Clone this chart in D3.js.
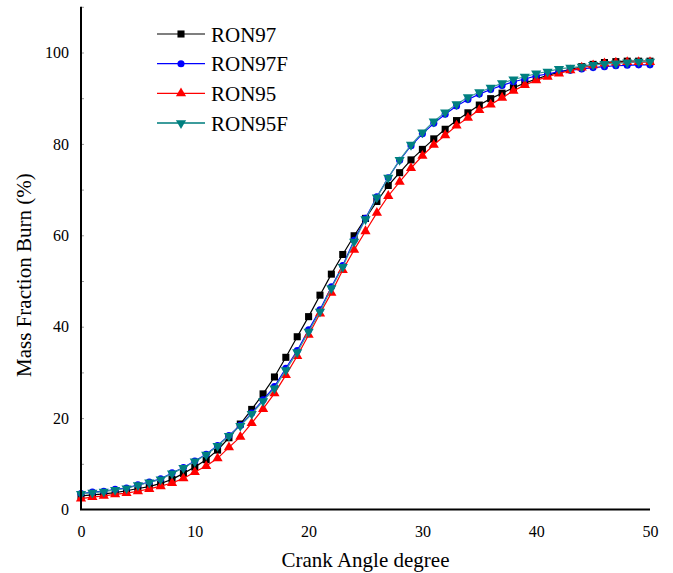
<!DOCTYPE html>
<html>
<head>
<meta charset="utf-8">
<script src="https://cdn.jsdelivr.net/npm/d3@7"></script>
<style>
  body { margin: 0; background: #fff; }
  text { font-family: "Liberation Serif", "Times New Roman", serif; }
</style>
</head>
<body>
<div id="chart"></div>
<script>
// crank angle (deg) and mass fraction burn (%)
const crankAngle = d3.range(0, 51);
const ron97 = [3.0, 3.2, 3.4, 3.7, 4.1, 4.6, 5.0, 5.7, 6.6, 7.9, 9.3, 10.9, 13.0, 15.7, 18.7, 21.9, 25.3, 29.0, 33.3, 37.8, 42.2, 46.9, 51.5, 55.8, 59.9, 63.7, 67.4, 70.9, 73.7, 76.5, 78.8, 81.1, 83.2, 85.1, 86.8, 88.5, 89.9, 91.1, 92.3, 93.3, 94.2, 95.0, 95.7, 96.3, 96.9, 97.4, 97.8, 98.0, 98.1, 98.1, 98.1];
const ron97F = [3.5, 3.8, 4.0, 4.4, 4.7, 5.4, 6.0, 6.7, 8.0, 9.2, 10.6, 12.1, 14.0, 16.2, 18.4, 21.1, 24.0, 26.9, 30.9, 34.8, 39.3, 43.7, 48.7, 53.4, 58.9, 63.7, 68.4, 72.6, 76.4, 79.6, 82.2, 84.5, 86.5, 88.3, 89.7, 90.9, 91.9, 92.8, 93.6, 94.2, 94.9, 95.3, 95.8, 96.1, 96.4, 96.7, 96.9, 97.1, 97.2, 97.3, 97.3];
const ron95 = [2.4, 2.7, 3.0, 3.3, 3.6, 4.0, 4.5, 5.1, 5.8, 6.8, 8.2, 9.5, 11.2, 13.6, 15.9, 18.9, 22.0, 25.4, 29.4, 33.6, 38.2, 42.9, 47.4, 52.4, 56.8, 60.9, 64.9, 68.6, 71.7, 74.7, 77.4, 79.8, 81.9, 84.0, 85.7, 87.4, 88.6, 90.1, 91.6, 92.9, 93.9, 94.7, 95.4, 96.1, 96.7, 97.2, 97.6, 97.8, 97.9, 97.9, 97.9];
const ron95F = [3.4, 3.7, 3.9, 4.3, 4.6, 5.3, 5.9, 6.6, 7.9, 9.1, 10.5, 12.0, 13.9, 16.1, 18.3, 20.9, 23.7, 26.5, 30.5, 34.4, 38.9, 43.3, 48.4, 53.1, 58.6, 63.5, 68.3, 72.6, 76.5, 79.8, 82.5, 84.9, 86.9, 88.7, 90.2, 91.3, 92.3, 93.3, 94.1, 94.7, 95.4, 95.8, 96.4, 96.7, 96.9, 97.3, 97.5, 97.6, 97.8, 98.0, 98.0];

const seriesNames = ["RON97", "RON97F", "RON95", "RON95F"];
const seriesValues = [ron97, ron97F, ron95, ron95F];
const xTicks = [0, 10, 20, 30, 40, 50];
const yTicks = [0, 20, 40, 60, 80, 100];

const styles = {
  "RON97": { color: "#000000", line: "#000000", symbol: d3.symbolSquare, size: 50, rot: 0 },
  "RON97F": { color: "#0000ff", line: "#0000ff", symbol: d3.symbolCircle, size: 40, rot: 0 },
  "RON95": { color: "#ff0000", line: "#ff0000", symbol: d3.symbolTriangle, size: 45, rot: 0 },
  "RON95F": { color: "#008080", line: "#3c9c9c", symbol: d3.symbolTriangle, size: 45, rot: 180 }
};

const width = 673, height = 573;
const svg = d3.select("#chart").append("svg").attr("width", width).attr("height", height);

const x = d3.scaleLinear().domain([0, 50]).range([81, 650]);
const y = d3.scaleLinear().domain([0, 110]).range([509.5, 6.8]);

// inner minor ticks on the y axis
svg.append("g")
  .attr("transform", `translate(${x(0)},0)`)
  .call(d3.axisRight(y).tickValues(d3.range(10, 111, 10)).tickSize(3).tickFormat(""))
  .call(g => g.select(".domain").remove())
  .call(g => g.selectAll("line").attr("stroke", "#999"));

// tick labels
svg.append("g")
  .attr("transform", `translate(${x(0)},0)`)
  .call(d3.axisLeft(y).tickValues(yTicks).tickSize(0).tickPadding(12))
  .call(g => g.select(".domain").remove())
  .call(g => g.selectAll("text").attr("font-size", 16).attr("font-family", "Liberation Serif").attr("fill", "#000"));

svg.append("g")
  .attr("transform", `translate(0,${y(0)})`)
  .call(d3.axisBottom(x).tickValues(xTicks).tickSize(0).tickPadding(16))
  .call(g => g.select(".domain").remove())
  .call(g => g.selectAll("text").attr("font-size", 16).attr("font-family", "Liberation Serif").attr("fill", "#000"));

// series
const line = d3.line().x((d, i) => x(crankAngle[i])).y(d => y(d));
seriesNames.forEach((name, k) => {
  const st = styles[name];
  const vals = seriesValues[k];
  svg.append("path")
    .datum(vals)
    .attr("fill", "none")
    .attr("stroke", st.line)
    .attr("stroke-width", 1.2)
    .attr("d", line);
  svg.append("g").selectAll("path")
    .data(vals)
    .join("path")
    .attr("transform", (d, i) => `translate(${x(crankAngle[i])},${y(d)}) rotate(${st.rot})`)
    .attr("d", d3.symbol().type(st.symbol).size(st.size))
    .attr("fill", st.color);
});

// axis lines
svg.append("line").attr("x1", x(0)).attr("x2", x(0)).attr("y1", y(110)).attr("y2", y(0))
  .attr("stroke", "#000").attr("stroke-width", 2);
svg.append("line").attr("x1", x(0) - 1).attr("x2", x(50)).attr("y1", y(0)).attr("y2", y(0))
  .attr("stroke", "#000").attr("stroke-width", 2);

// legend
const legend = svg.append("g");
seriesNames.forEach((name, k) => {
  const st = styles[name];
  const ly = 34 + k * 29.7;
  legend.append("line").attr("x1", 157).attr("x2", 205).attr("y1", ly).attr("y2", ly)
    .attr("stroke", st.line).attr("stroke-width", name === "RON95F" ? 2 : 1.2);
  legend.append("path")
    .attr("transform", `translate(181,${ly}) rotate(${st.rot})`)
    .attr("d", d3.symbol().type(st.symbol).size(st.size))
    .attr("fill", st.color);
  legend.append("text").attr("x", 211).attr("y", ly + 7.5)
    .attr("font-size", 21).attr("fill", "#000").text(name);
});

// axis titles
svg.append("text")
  .attr("x", (x(0) + x(50)) / 2).attr("y", 567)
  .attr("text-anchor", "middle").attr("font-size", 21).text("Crank Angle degree");
svg.append("text")
  .attr("transform", `translate(31,${(y(0) + y(110)) / 2 + 17}) rotate(-90)`)
  .attr("text-anchor", "middle").attr("font-size", 21).text("Mass Fraction Burn (%)");
</script>
</body>
</html>
